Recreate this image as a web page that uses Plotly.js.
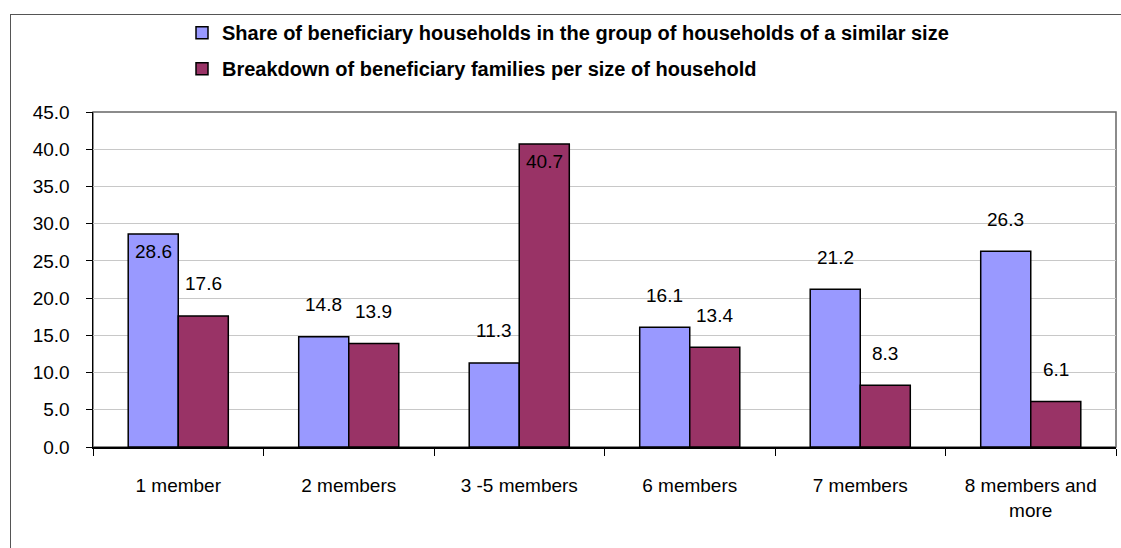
<!DOCTYPE html>
<html>
<head>
<meta charset="utf-8">
<script src="https://cdn.plot.ly/plotly-3.0.1.min.js"></script>
<style>
  html, body { margin: 0; padding: 0; background: #fff; overflow: hidden; }
  #wrap { position: relative; width: 1121px; height: 548px; overflow: hidden; }
  #chart { width: 1121px; height: 548px; }
  #frame { position: absolute; left: 10px; top: 14px; width: 1200px; height: 600px;
           border: 1.5px solid #555; pointer-events: none; box-sizing: border-box; }
</style>
</head>
<body>
<div id="wrap">
  <div id="chart"></div>
  <div id="frame"></div>
</div>
<script>
// ---- data ----
const categories = ["1 member", "2 members", "3 -5 members", "6 members", "7 members", "8 members and<br>more"];
const seriesNames = [
  "Share of beneficiary households in the group of households of a similar size",
  "Breakdown of beneficiary families per size of household"
];
const shareValues = [28.6, 14.8, 11.3, 16.1, 21.2, 26.3];
const breakdownValues = [17.6, 13.9, 40.7, 13.4, 8.3, 6.1];
const yTickVals = [0, 5, 10, 15, 20, 25, 30, 35, 40, 45];
const yTickText = ["0.0", "5.0", "10.0", "15.0", "20.0", "25.0", "30.0", "35.0", "40.0", "45.0"];

// ---- style ----
const W = 1121, H = 548;
const M = { l: 93, r: 5, t: 112, b: 101 };
const bargap = 0.413;
const colors = ["#9999FF", "#993366"];
const FONT = "'Liberation Sans', Arial, sans-serif";

const catPx = (W - M.l - M.r) / categories.length;
const barPx = (1 - bargap) * catPx / 2;

const traces = [shareValues, breakdownValues].map((vals, i) => ({
  type: "bar",
  name: seriesNames[i],
  x: categories,
  y: vals,
  legendgroup: "g" + i,
  marker: { color: colors[i], line: { color: "#000", width: 1.5 } },
  hoverinfo: "x+y"
}));

// data labels above bars (inside the top when the bar is tall)
const annotations = [];
[shareValues, breakdownValues].forEach((vals, i) => {
  vals.forEach((v, j) => {
    const inside = v > 27;
    annotations.push({
      x: categories[j], y: v, xref: "x", yref: "y",
      text: v.toFixed(1), showarrow: false,
      xshift: (i === 0 ? -1 : 1) * barPx / 2,
      yshift: inside ? -17 : 32,
      yanchor: "middle", xanchor: "center",
      font: { family: FONT, size: 19, color: "#000" }
    });
  });
});

const layout = {
  width: W, height: H,
  margin: M,
  paper_bgcolor: "#fff",
  plot_bgcolor: "#fff",
  barmode: "group",
  bargap: bargap,
  bargroupgap: 0,
  showlegend: true,
  legend: {
    orientation: "v",
    x: 0.087, xanchor: "left",
    y: 1.295, yanchor: "top",
    font: { family: FONT, size: 20, color: "#000", weight: "bold" },
    tracegroupgap: 7,
    bgcolor: "rgba(0,0,0,0)"
  },
  xaxis: {
    type: "category",
    tickson: "boundaries",
    ticks: "outside", ticklen: 7, tickcolor: "#000", tickwidth: 1,
    showline: true, linecolor: "#000", linewidth: 1.5,
    showgrid: false,
    tickfont: { family: FONT, size: 19, color: "#000" },
    ticklabelstandoff: 21,
    fixedrange: true
  },
  yaxis: {
    range: [0, 45],
    tickvals: yTickVals, ticktext: yTickText,
    ticks: "outside", ticklen: 6, tickcolor: "#000", tickwidth: 1,
    showline: true, linecolor: "#000", linewidth: 1.5,
    showgrid: true, gridcolor: "#c8c8c8", gridwidth: 1,
    zeroline: false,
    tickfont: { family: FONT, size: 19, color: "#000" },
    ticklabelstandoff: 12,
    fixedrange: true
  },
  shapes: [{
    type: "rect", xref: "paper", yref: "paper", x0: 0, x1: 1, y0: 0, y1: 1,
    line: { color: "#666", width: 1.5 }, layer: "below"
  }],
  annotations: annotations
};

Plotly.newPlot("chart", traces, layout, { displayModeBar: false, staticPlot: true });
</script>
</body>
</html>
